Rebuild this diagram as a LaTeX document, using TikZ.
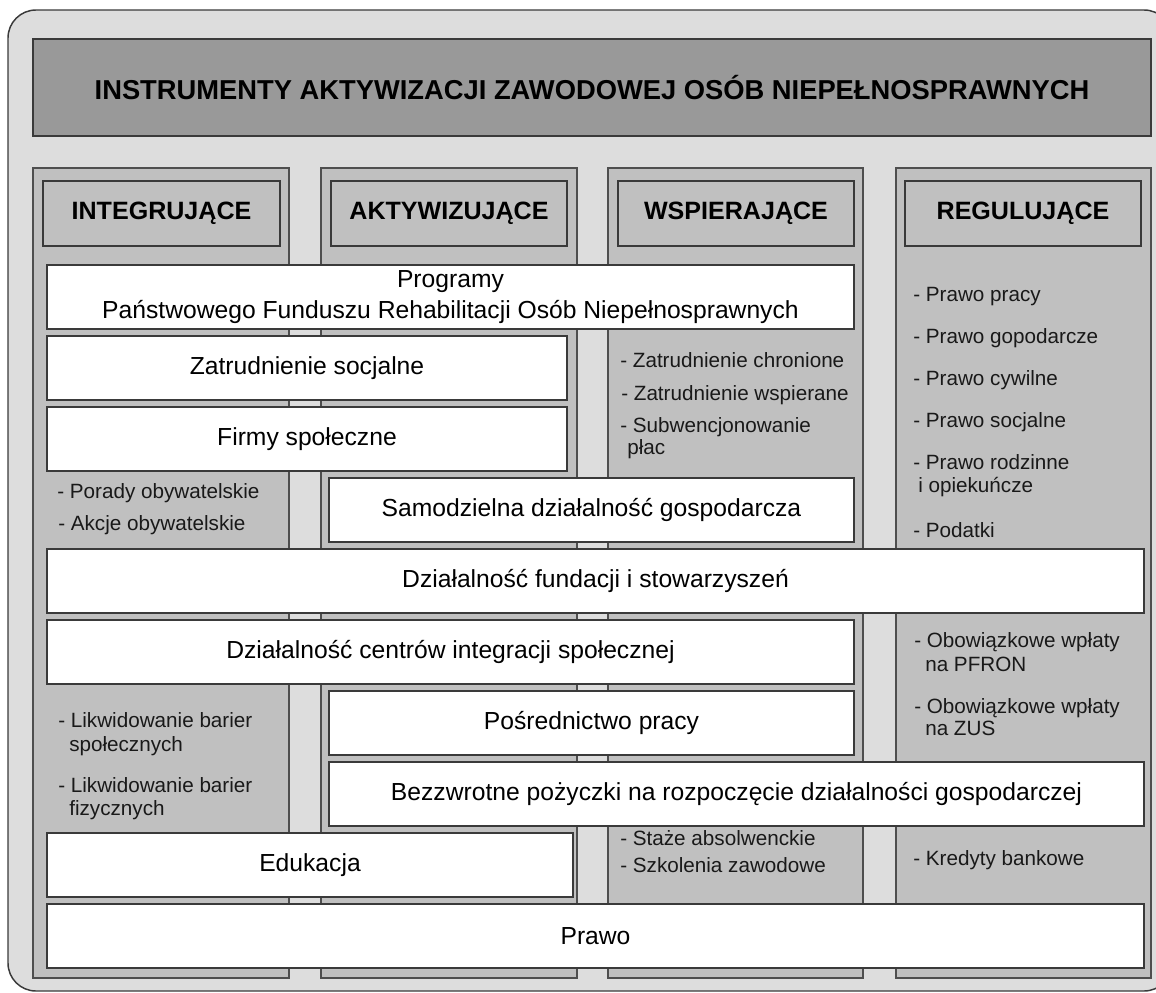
\documentclass[tikz,border=0pt]{standalone}
\usepackage{fontspec}
\setmainfont{Liberation Sans}
\definecolor{frameback}{HTML}{DDDDDD}
\definecolor{titleback}{HTML}{999999}
\definecolor{colback}{HTML}{C0C0C0}
\definecolor{edge}{HTML}{3A3A3A}
\tikzset{
  frame/.style={draw=edge, line width=1.1pt, fill=frameback, rounded corners=21pt},
  titlebox/.style={draw=edge, line width=0.9pt, fill=titleback, inner sep=0pt,
    font=\fontsize{20.5}{24}\selectfont\bfseries},
  column/.style={draw=edge!90, line width=0.9pt, fill=colback},
  headbox/.style={draw=edge, line width=0.9pt, fill=colback, inner sep=0pt,
    font=\fontsize{18.8}{22}\selectfont\bfseries},
  wbox/.style={draw=edge, line width=1pt, fill=white, inner sep=0pt, align=center,
    font=\fontsize{18.5}{23.5}\selectfont},
  item/.style={anchor=base west, inner sep=0pt, text=black!90,
    font=\fontsize{15.5}{18}\selectfont},
}
% box between two corners given on the pixel grid, text centred
\newcommand\boxat[7]{%
  \pgfmathsetmacro\bw{(#5-#3)*0.75}%
  \pgfmathsetmacro\bh{(#6-#4)*0.75}%
  \node[#1, minimum width=\bw pt, minimum height=\bh pt] (#2)
    at ({(#3+#5)/2},{(#4+#6)/2}) {#7};}
\newcommand\wb[6]{\boxat{wbox}{#1}{#2}{#3}{#4}{#5}{#6}}
\newcommand\hb[6]{\boxat{headbox}{#1}{#2}{#3}{#4}{#5}{#6}}
\newcommand\li[4]{\node[item] (#1) at (#2,#3) {#4};}
\begin{document}
\begin{tikzpicture}[x=0.75pt,y=-0.75pt]
\useasboundingbox (0,0) rectangle (1156,992);
\begin{scope}
\clip (0,0) rectangle (1156,992);
\draw[frame] (8,10) rectangle (1172,991);
\end{scope}

% title
\boxat{titlebox}{title}{33}{39}{1151}{136}{INSTRUMENTY AKTYWIZACJI ZAWODOWEJ OSÓB NIEPEŁNOSPRAWNYCH}

% four columns
\draw[column] (33,168) rectangle (289,978);
\draw[column] (321,168) rectangle (577,978);
\draw[column] (608,168) rectangle (863,978);
\draw[column] (896,168) rectangle (1151,978);

\hb{h1}{43}{181}{280}{246}{INTEGRUJĄCE}
\hb{h2}{331}{181}{567}{246}{AKTYWIZUJĄCE}
\hb{h3}{618}{181}{854}{246}{WSPIERAJĄCE}
\hb{h4}{905}{181}{1141}{246}{REGULUJĄCE}

% instruments spanning columns
\wb{pfron}{47}{265}{854}{329}{Programy\\Państwowego Funduszu Rehabilitacji Osób Niepełnosprawnych}
\wb{zsoc}{47}{336}{567}{400}{Zatrudnienie socjalne}
\wb{firmy}{47}{407}{567}{471}{Firmy społeczne}
\wb{samo}{329}{478}{854}{542}{Samodzielna działalność gospodarcza}
\wb{fund}{47}{549}{1144}{613}{Działalność fundacji i stowarzyszeń}
\wb{cis}{47}{620}{854}{684}{Działalność centrów integracji społecznej}
\wb{posr}{329}{691}{854}{755}{Pośrednictwo pracy}
\wb{pozy}{329}{762}{1144}{826}{Bezzwrotne pożyczki na rozpoczęcie działalności gospodarczej}
\wb{edu}{47}{833}{573}{897}{Edukacja}
\wb{prawo}{47}{904}{1144}{968}{Prawo}

% integrujące
\li{i1}{57}{498}{- Porady obywatelskie}
\li{i2}{58}{530}{- Akcje obywatelskie}
\li{i3}{58}{727}{- Likwidowanie barier}
\li{i3b}{69}{751}{społecznych}
\li{i4}{58}{792}{- Likwidowanie barier}
\li{i4b}{69}{815}{fizycznych}

% wspierające
\li{w1}{620}{367}{- Zatrudnienie chronione}
\li{w2}{621}{400}{- Zatrudnienie wspierane}
\li{w3}{620}{432}{- Subwencjonowanie}
\li{w3b}{627}{454}{płac}
\li{w4}{620}{845}{- Staże absolwenckie}
\li{w5}{620}{872}{- Szkolenia zawodowe}

% regulujące
\li{r1}{913}{301}{- Prawo pracy}
\li{r2}{913}{343}{- Prawo gopodarcze}
\li{r3}{913}{385}{- Prawo cywilne}
\li{r4}{913}{427}{- Prawo socjalne}
\li{r5}{913}{469}{- Prawo rodzinne}
\li{r5b}{918}{492}{i opiekuńcze}
\li{r6}{913}{537}{- Podatki}
\li{r7}{914}{647}{- Obowiązkowe wpłaty}
\li{r7b}{925}{671}{na PFRON}
\li{r8}{914}{713}{- Obowiązkowe wpłaty}
\li{r8b}{925}{735}{na ZUS}
\li{r9}{913}{865}{- Kredyty bankowe}
\end{tikzpicture}
\end{document}
